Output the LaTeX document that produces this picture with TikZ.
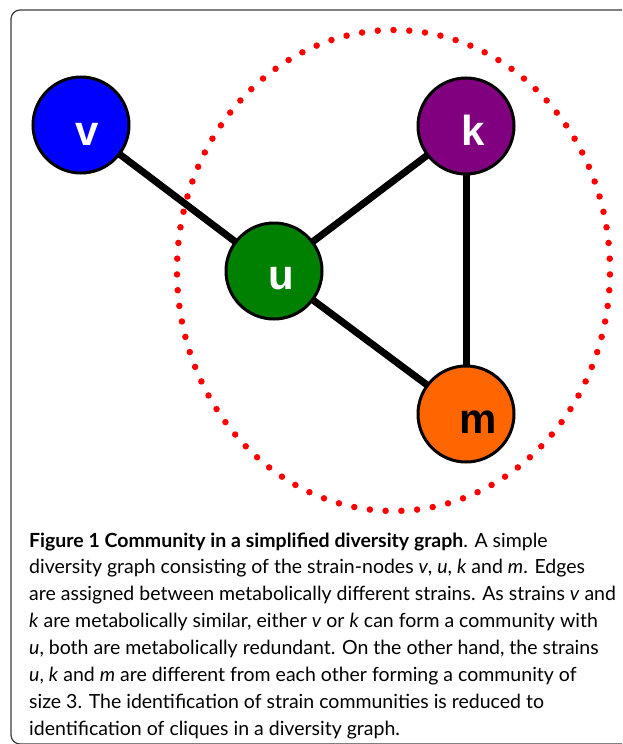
\documentclass[tikz,border=0pt]{standalone}
\usepackage{fontspec}
\setmainfont{Lato}
\newfontfamily\labelfont{Liberation Sans}
\usetikzlibrary{backgrounds}

\definecolor{vblue}{RGB}{0,0,255}
\definecolor{ugreen}{RGB}{0,128,0}
\definecolor{kpurple}{RGB}{128,0,128}
\definecolor{morange}{RGB}{255,102,0}
\definecolor{dotred}{RGB}{255,0,0}
\definecolor{framegray}{RGB}{60,60,60}

\tikzset{
  strain/.style={circle, draw=black, line width=3pt, minimum size=96pt, inner sep=0pt},
  lbl/.style={anchor=base west, inner sep=0pt,
              font=\labelfont\bfseries\fontsize{42}{42}\selectfont},
  edge/.style={line width=7pt, black},
  community/.style={dotred, line width=6.5pt, line cap=round, dash pattern=on 0pt off 15.79pt},
  frame/.style={framegray, line width=1.2pt, rounded corners=9pt},
  caption/.style={anchor=base west, inner sep=0pt, align=left,
                  font=\fontsize{19.5}{26.9}\selectfont}
}

\begin{document}
\begin{tikzpicture}[x=1pt, y=-1pt]
  \useasboundingbox (0,0) rectangle (622,744);
  \clip (0,0) rectangle (622,744);

  % outer frame, only its top and left sides fall inside the page
  \draw[frame] (700,744) -- (11,744) -- (11,10) -- (700,10);

  % strain nodes
  \node[strain, fill=vblue]   (v) at (81,125) {};
  \node[strain, fill=ugreen]  (u) at (274,271) {};
  \node[strain, fill=kpurple] (k) at (466,126) {};
  \node[strain, fill=morange] (m) at (466,414) {};

  % node letters, set a little right of and below each centre
  \node[lbl, white] (vl) at ([shift={(-6,20)}]v.center) {v};
  \node[lbl, white] (ul) at ([shift={(-6,18)}]u.center) {u};
  \node[lbl, white] (kl) at ([shift={(-5,19)}]k.center) {k};
  \node[lbl, black] (ml) at ([shift={(-7,19)}]m.center) {m};

  % edges between metabolically different strains
  \begin{pgfonlayer}{background}
    \draw[edge] (v.center) -- (u.center);
    \draw[edge] (u.center) -- (k.center);
    \draw[edge] (u.center) -- (m.center);
    \draw[edge] (k.center) -- (m.center);
  \end{pgfonlayer}

  % the community u, k, m
  \coordinate (cc) at (393.5,270.5);
  \draw[community] (cc) ++(0,-240.5)
    arc[start angle=270, end angle=630, x radius=216.5, y radius=240.5];

  % caption; the base anchor sits on the last line
  \node[caption] (cap) at (29,735.3) {%
    \textbf{Figure 1 Community in a simplified diversity graph}. A simple\\
    diversity graph consisting of the strain-nodes \textit{v}, \textit{u}, \textit{k} and \textit{m}. Edges\\
    are assigned between metabolically different strains. As strains \textit{v} and\\
    \textit{k} are metabolically similar, either \textit{v} or \textit{k} can form a community with\\
    \textit{u}, both are metabolically redundant. On the other hand, the strains\\
    \textit{u}, \textit{k} and \textit{m} are different from each other forming a community of\\
    size 3. The identification of strain communities is reduced to\\
    identification of cliques in a diversity graph.};
\end{tikzpicture}
\end{document}
